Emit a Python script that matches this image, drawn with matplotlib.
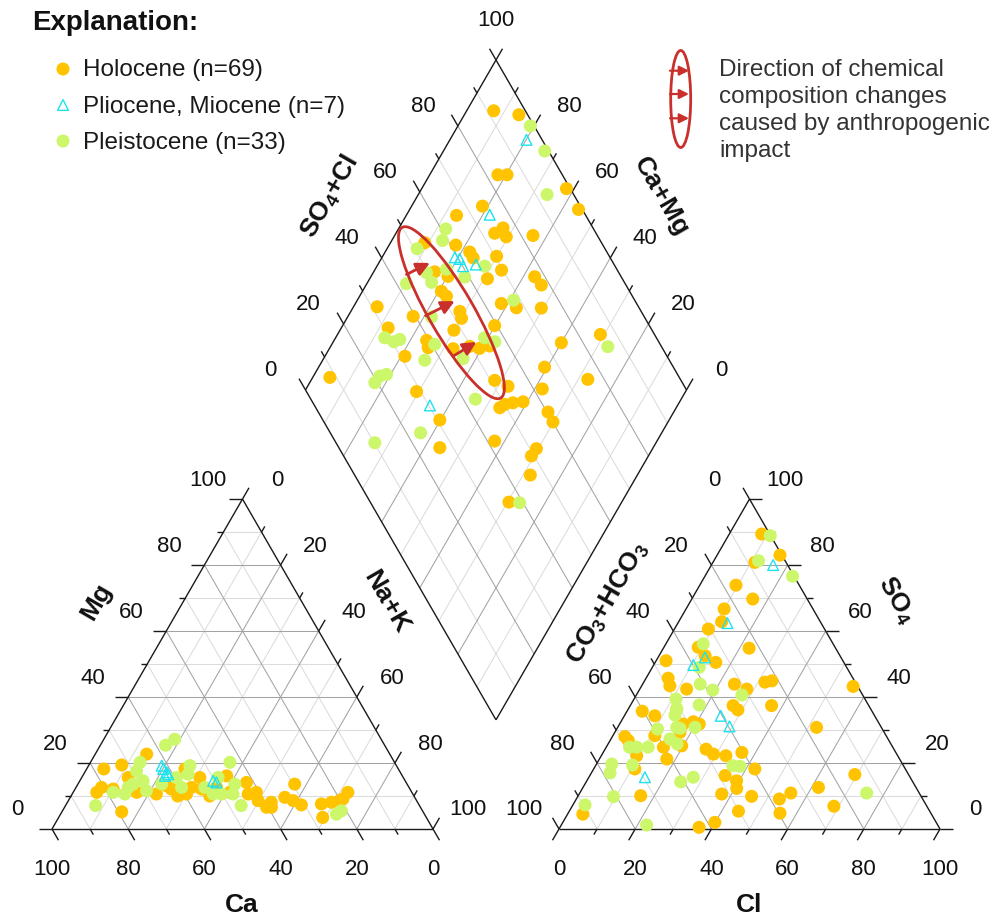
import numpy as np
import matplotlib
matplotlib.use("Agg")
import matplotlib.pyplot as plt
from matplotlib.patches import Ellipse, FancyArrowPatch

plt.rcParams['font.family'] = ['Liberation Sans', 'DejaVu Sans']
plt.rcParams['mathtext.fontset'] = 'custom'
plt.rcParams['mathtext.rm'] = 'Liberation Sans:bold'
plt.rcParams['mathtext.it'] = 'Liberation Sans:bold'
plt.rcParams['mathtext.bf'] = 'Liberation Sans:bold'

# ---------------- data (percent of meq) ----------------
# cation triangle: Ca, Mg (Na+K = 100 - Ca - Mg)
hol_ca = [77.3, 72.0, 63.8, 82.7, 80.7, 72.2, 79.1, 72.2, 67.3, 63.4, 62.6, 56.0, 59.4, 57.1, 53.4,
          54.7, 50.5, 46.1, 47.8, 41.9, 43.2, 40.8, 41.6, 40.4, 38.4, 39.1, 34.1, 29.5, 32.4, 30.9,
          25.5, 22.6, 20.2, 16.8, 27.2, 19.1, 62.0, 53.6, 77.9]
hol_mg = [18.2, 19.4, 22.7, 11.1, 12.6, 15.6, 5.2, 11.1, 10.6, 13.1, 12.1, 18.2, 10.6, 12.6, 15.6,
          12.1, 12.6, 16.1, 11.1, 14.1, 10.6, 11.1, 8.6, 6.6, 8.1, 6.6, 9.6, 13.6, 8.6, 7.3,
          7.6, 8.1, 8.6, 11.1, 3.5, 9.1, 10.0, 10.0, 12.1]
ple_ca = [54.2, 57.5, 85.0, 78.4, 75.6, 66.8, 69.0, 71.9, 68.8, 69.4, 64.4, 59.5, 59.7, 54.2, 56.0,
          53.6, 52.4, 48.6, 50.2, 43.2, 45.2, 47.2, 46.8, 23.1, 21.3, 73.7]
ple_mg = [27.2, 25.4, 7.1, 11.1, 10.6, 20.2, 17.6, 13.6, 14.6, 11.6, 13.6, 15.6, 12.6, 19.2, 16.6,
          12.6, 10.6, 15.6, 10.6, 20.2, 13.6, 10.6, 7.1, 4.5, 5.5, 12.6]
pli_ca = [61.7, 61.3, 61.6, 61.2, 62.3, 50.4, 49.8]
pli_mg = [18.2, 17.2, 19.2, 16.6, 16.1, 14.6, 14.1]

# anion triangle: Cl, SO4 (CO3+HCO3 = 100 - Cl - SO4)
hol_cl = [8.5, 16.5, 11.0, 9.5, 16.0, 10.0, 11.3, 8.9, 22.5, 9.0, 12.1, 15.9, 2.6, 5.8, 7.4, 12.3,
          24.1, 28.1, 31.8, 33.4, 55.6, 27.0, 28.9, 37.1, 4.0, 8.0, 12.7, 16.7, 19.0, 20.9, 52.2,
          3.3, 11.0, 17.1, 4.8, 9.3, 15.0, 17.7, 19.6, 26.5, 29.2, 32.7, 36.4, 42.3, 35.5, 39.3,
          40.5, 37.4, 45.6, 53.3, 55.4, 61.8, 69.4, 68.7, 55.6, 44.4, 39.9, 36.5, 16.4, 4.0, 10.8]
hol_so4 = [89.4, 83.0, 80.8, 73.9, 69.7, 66.7, 62.8, 60.6, 54.8, 55.1, 52.5, 50.5, 51.0, 45.7, 43.4,
           42.4, 43.9, 42.4, 44.5, 44.9, 43.2, 37.4, 36.1, 37.4, 35.7, 34.3, 36.4, 31.8, 32.5, 31.8,
           30.8, 28.0, 28.3, 29.3, 26.8, 22.2, 24.8, 21.2, 25.2, 24.2, 22.7, 22.2, 23.2, 18.2, 16.2,
           14.6, 12.3, 10.6, 9.9, 9.1, 10.9, 12.6, 16.5, 6.9, 4.8, 5.4, 2.0, 0.5, 10.1, 4.5, 18.2]
ple_cl = [11.0, 11.7, 23.0, 9.8, 12.3, 15.1, 19.3, 27.7, 11.0, 12.7, 18.0, 13.2, 10.7, 15.5, 16.5,
          20.3, 15.5, 18.1, 6.1, 8.0, 11.0, 4.0, 4.9, 9.6, 24.8, 27.4, 36.0, 38.0, 9.4, 3.2, 22.4, 75.3]
ple_so4 = [88.9, 81.3, 76.6, 56.1, 49.0, 43.9, 42.1, 40.6, 39.4, 36.4, 37.6, 34.5, 30.3, 30.8, 30.5,
           30.8, 27.3, 25.8, 24.8, 24.8, 24.8, 19.7, 17.0, 19.4, 14.3, 15.7, 19.2, 19.0, 9.8, 7.3, 1.2, 10.9]
pli_cl = [16.2, 13.0, 12.3, 10.4, 25.3, 29.2, 14.7]
pli_so4 = [80.0, 62.4, 52.0, 49.7, 34.3, 31.1, 15.7]

# diamond: Ca+Mg, SO4+Cl
hol_cm = [92.9, 85.7, 82.1, 79.7, 62.0, 55.7, 81.4, 86.8, 74.1, 72.7, 70.5, 63.7, 91.0, 82.5, 77.8,
          76.0, 70.1, 66.7, 69.1, 57.0, 54.0, 84.0, 79.8, 79.3, 77.2, 61.7, 57.1, 50.5, 93.8, 82.9,
          71.4, 69.9, 60.1, 70.1, 87.7, 75.7, 74.2, 67.5, 63.5, 60.6, 58.3, 40.0, 31.0, 79.0, 40.7,
          95.5, 27.5, 51.8, 47.4, 38.0, 70.6, 46.3, 45.5, 43.6, 41.1, 33.0, 30.2, 60.2, 42.6, 56.0,
          30.5, 30.7, 28.1, 29.6]
hol_sc = [91.7, 97.7, 83.1, 85.5, 99.0, 99.0, 74.3, 66.1, 73.4, 76.4, 75.9, 83.1, 53.6, 61.4, 64.0,
          64.0, 70.4, 69.6, 64.6, 77.3, 77.8, 51.8, 54.6, 50.6, 51.2, 64.5, 67.8, 74.3, 31.4, 39.4,
          52.4, 51.8, 59.4, 48.0, 31.1, 39.3, 38.6, 45.0, 49.7, 52.0, 55.0, 74.3, 85.8, 31.2, 66.2,
          8.3, 75.7, 51.1, 53.7, 62.3, 28.9, 48.3, 50.1, 52.5, 55.3, 60.3, 60.1, 30.7, 41.9, 26.5,
          51.7, 49.3, 46.1, 36.4]
ple_cm = [81.0, 73.4, 66.2, 87.6, 86.7, 92.1, 81.3, 86.0, 83.2, 89.6, 71.7, 75.3, 59.0, 78.0, 87.1,
          82.9, 84.1, 73.0, 60.9, 57.6, 63.4, 73.2, 27.2, 81.1, 82.6, 82.9, 54.0, 63.3, 73.8, 26.7]
ple_sc = [99.0, 99.0, 93.0, 61.2, 58.6, 50.7, 55.3, 49.5, 49.4, 42.6, 65.8, 58.9, 68.2, 44.1, 28.7,
          32.4, 30.5, 40.8, 54.9, 57.0, 46.1, 35.8, 85.9, 23.6, 21.6, 19.3, 43.2, 23.7, 10.2, 39.1]
pli_cm = [79.9, 78.2, 80.9, 79.4, 77.4, 74.3, 65.0]
pli_sc = [95.9, 74.9, 59.3, 60.3, 60.1, 63.7, 30.3]

# anthropogenic trend annotation (diamond coordinates: Ca+Mg, SO4+Cl)
trend_center = (73.4, 50.0)
trend_arrows = [((91.0, 44.0), (86.6, 51.9)),
                ((79.7, 42.8), (74.3, 52.6)),
                ((66.4, 43.8), (62.4, 52.1))]

legend_labels = ["Holocene (n=69)", "Pliocene, Miocene (n=7)", "Pleistocene (n=33)"]
tick_vals = [0, 20, 40, 60, 80, 100]

C_HOL = '#ffc300'
C_PLE = '#cdf76b'
C_PLI = '#1de2ee'
C_RED = '#c9302c'

# ---------------- figure & geometry ----------------
W, HP = 998, 920
fig = plt.figure(figsize=(W / 100, HP / 100), dpi=100)
ax = fig.add_axes([0, 0, 1, 1])
ax.set_xlim(0, W)
ax.set_ylim(0, HP)
ax.axis('off')

S = 381.0
TH = S * np.sqrt(3) / 2
LX0, BASE = 52.0, 90.0
GAP = 126.0
RX0 = LX0 + S + GAP
DBX = LX0 + S + GAP / 2
DBY = BASE + GAP / 2 * np.sqrt(3)


def cat_xy(ca, mg):
    ca = np.asarray(ca, float); mg = np.asarray(mg, float)
    na = 100 - ca - mg
    return LX0 + S * (na + mg / 2) / 100, BASE + TH * mg / 100


def an_xy(cl, so4):
    cl = np.asarray(cl, float); so4 = np.asarray(so4, float)
    return RX0 + S * (cl + so4 / 2) / 100, BASE + TH * so4 / 100


def dia_xy(cm, sc):
    cm = np.asarray(cm, float); sc = np.asarray(sc, float)
    return DBX + S / 2 * (sc - cm) / 100, DBY + TH * (cm + sc) / 100


def py(y):  # pixel row from top -> data y
    return HP - y


MAJ_C, MIN_C = '#a3a3a3', '#dcdcdc'
FR_C = '#1a1a1a'
LW_FR = 1.0
LW_G = 0.75
MAJ_L, MIN_L = 13, 6.5
TICK_FS = 16
TITLE_FS = 19


def seg(p, q, **kw):
    ax.plot([p[0], q[0]], [p[1], q[1]], solid_capstyle='butt', **kw)


def grid_line(f, a, b, v):
    col = MAJ_C if v % 20 == 0 else MIN_C
    z = 1 if v % 20 == 0 else 0.9
    seg(f(*a), f(*b), color=col, lw=LW_G, zorder=z)


def ticks(f, pts, d):
    d = np.array(d, float); d /= np.hypot(*d)
    for v, p in pts:
        x, y = f(*p)
        L = MAJ_L if v % 20 == 0 else MIN_L
        seg((x, y), (x + d[0] * L, y + d[1] * L), color=FR_C, lw=LW_FR, zorder=3)


def labels(f, pts, off):
    for v, p in pts:
        x, y = f(*p)
        ax.text(x + off[0], y + off[1], str(v), fontsize=TICK_FS, ha='center', va='center',
                color='#111111')


vals = range(0, 101, 10)
inner = range(10, 100, 10)

# ---- cation triangle ----
for v in inner:
    grid_line(cat_xy, (100 - v, v), (0, v), v)            # Mg const
    grid_line(cat_xy, (v, 100 - v), (v, 0), v)            # Ca const
    grid_line(cat_xy, (100 - v, 0), (0, 100 - v), v)      # Na const
for a, b in [((100, 0), (0, 0)), ((0, 0), (0, 100)), ((0, 100), (100, 0))]:
    seg(cat_xy(*a), cat_xy(*b), color=FR_C, lw=LW_FR, zorder=3)
ticks(cat_xy, [(v, (v, 0)) for v in vals], (0.5, -0.866))
ticks(cat_xy, [(v, (100 - v, v)) for v in vals], (-1, 0))
ticks(cat_xy, [(v, (0, 100 - v)) for v in vals], (0.5, 0.866))
labels(cat_xy, [(v, (v, 0)) for v in tick_vals], (0, -40))
labels(cat_xy, [(v, (100 - v, v)) for v in tick_vals], (-35, 20))
labels(cat_xy, [(v, (0, 100 - v)) for v in tick_vals], (35, 20))

# ---- anion triangle ----
for v in inner:
    grid_line(an_xy, (100 - v, v), (0, v), v)             # SO4 const
    grid_line(an_xy, (v, 0), (v, 100 - v), v)             # Cl const
    grid_line(an_xy, (100 - v, 0), (0, 100 - v), v)       # CO3 const
for a, b in [((0, 0), (100, 0)), ((100, 0), (0, 100)), ((0, 100), (0, 0))]:
    seg(an_xy(*a), an_xy(*b), color=FR_C, lw=LW_FR, zorder=3)
ticks(an_xy, [(v, (v, 0)) for v in vals], (-0.5, -0.866))
ticks(an_xy, [(v, (100 - v, v)) for v in vals], (1, 0))
ticks(an_xy, [(v, (0, 100 - v)) for v in vals], (-0.5, 0.866))
labels(an_xy, [(v, (v, 0)) for v in tick_vals], (0, -40))
labels(an_xy, [(v, (100 - v, v)) for v in tick_vals], (35, 20))
labels(an_xy, [(v, (0, 100 - v)) for v in tick_vals], (-35, 20))

# ---- diamond ----
for v in inner:
    grid_line(dia_xy, (v, 0), (v, 100), v)
    grid_line(dia_xy, (0, v), (100, v), v)
for a, b in [((0, 0), (100, 0)), ((100, 0), (100, 100)), ((100, 100), (0, 100)), ((0, 100), (0, 0))]:
    seg(dia_xy(*a), dia_xy(*b), color=FR_C, lw=LW_FR, zorder=3)
ticks(dia_xy, [(v, (100, v)) for v in vals], (-0.5, 0.866))
ticks(dia_xy, [(v, (v, 100)) for v in vals], (0.5, 0.866))
labels(dia_xy, [(v, (100, v)) for v in tick_vals[:-1]], (-35, 20))
labels(dia_xy, [(v, (v, 100)) for v in tick_vals[:-1]], (35, 20))
labels(dia_xy, [(100, (100, 100))], (0, 40))

# ---- axis titles ----
tk = dict(fontsize=TITLE_FS, fontweight='bold', ha='center', va='center', color='#111111')
ax.text(241.5, py(905), 'Ca', **tk)
ax.text(749, py(905), 'Cl', **tk)
ax.text(96, py(602), 'Mg', rotation=60, **tk)
ax.text(386, py(602), 'Na+K', rotation=-60, **tk)
ax.text(330, py(197), r'SO$_{4}$+Cl', rotation=60, **tk)
ax.text(661, py(197), 'Ca+Mg', rotation=-60, **tk)
ax.text(608, py(603), r'CO$_{3}$+HCO$_{3}$', rotation=60, **tk)
ax.text(896, py(600), r'SO$_{4}$', rotation=-60, **tk)

# ---- data points ----
MS = 88
for f, (a1, b1), (a2, b2), (a3, b3) in [
        (cat_xy, (hol_ca, hol_mg), (ple_ca, ple_mg), (pli_ca, pli_mg)),
        (an_xy, (hol_cl, hol_so4), (ple_cl, ple_so4), (pli_cl, pli_so4)),
        (dia_xy, (hol_cm, hol_sc), (ple_cm, ple_sc), (pli_cm, pli_sc))]:
    x, y = f(a1, b1)
    ax.scatter(x, y, s=MS, c=C_HOL, edgecolors='none', zorder=5)
    x, y = f(a2, b2)
    ax.scatter(x, y, s=MS, c=C_PLE, edgecolors='none', zorder=6)
    x, y = f(a3, b3)
    ax.scatter(x, y, s=60, marker='^', facecolors='none', edgecolors=C_PLI, linewidths=1.0, zorder=7)

# ---- trend annotation ----
cx, cy = dia_xy(*trend_center)
ax.add_patch(Ellipse((float(cx), float(cy)), width=197, height=45, angle=120,
                     fill=False, edgecolor=C_RED, lw=2.0, zorder=8))
for (p0, p1) in trend_arrows:
    x0, y0 = dia_xy(*p0)
    x1, y1 = dia_xy(*p1)
    ax.add_patch(FancyArrowPatch((float(x0), float(y0)), (float(x1), float(y1)),
                                 arrowstyle='-|>', mutation_scale=20, color=C_RED, lw=2.0,
                                 shrinkA=0, shrinkB=0, zorder=9))

# ---- legend (left) ----
ax.text(32, py(30), 'Explanation:', fontsize=20, fontweight='bold', ha='left', va='baseline',
        color='#111111')
leg_y = [70, 106, 142]
ax.scatter([63], [py(leg_y[0])], s=MS, c=C_HOL, edgecolors='none')
ax.scatter([63], [py(leg_y[1])], s=60, marker='^', facecolors='none', edgecolors=C_PLI, linewidths=1.0)
ax.scatter([63], [py(leg_y[2])], s=MS, c=C_PLE, edgecolors='none')
for lab, yb in zip(legend_labels, [76, 112.5, 148.5]):
    ax.text(83, py(yb), lab, fontsize=17.5, ha='left', va='baseline', color='#1a1a1a')

# ---- legend (right) ----
ax.add_patch(Ellipse((680.7, py(100)), width=20, height=97, fill=False, edgecolor=C_RED, lw=2.0))
for yy in [71.7, 95, 119.3]:
    ax.add_patch(FancyArrowPatch((670, py(yy)), (689, py(yy)), arrowstyle='-|>',
                                 mutation_scale=14, color=C_RED, lw=1.6, shrinkA=0, shrinkB=0))
for line, yb in zip(["Direction of chemical", "composition changes",
                     "caused by anthropogenic", "impact"], [76, 102.8, 129.7, 156.5]):
    ax.text(719, py(yb), line, fontsize=17.5, ha='left', va='baseline', color='#333333')

fig.savefig('out.png', dpi=100)
